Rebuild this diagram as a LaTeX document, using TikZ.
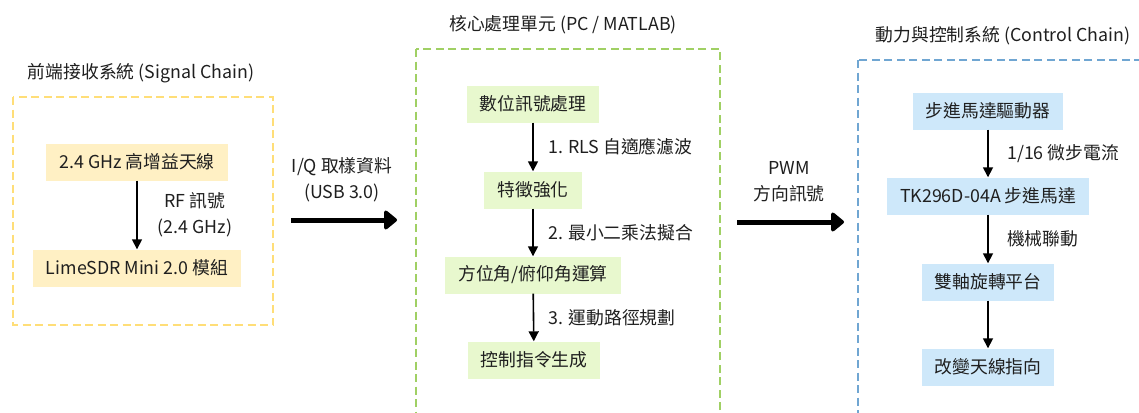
\documentclass[tikz,border=0pt]{standalone}
\usepackage{fontspec}
\setmainfont{Noto Sans CJK TC}
\usetikzlibrary{arrows.meta}
\definecolor{ybord}{RGB}{255,222,120}
\definecolor{yfill}{RGB}{255,240,196}
\definecolor{gbord}{RGB}{160,208,100}
\definecolor{gfill}{RGB}{232,248,206}
\definecolor{bbord}{RGB}{112,166,210}
\definecolor{bfill}{RGB}{206,232,250}
\tikzset{
  txt/.style={font=\fontsize{17.8}{26}\selectfont, text=black!88},
  box/.style={txt, inner xsep=13pt, inner ysep=0pt, minimum height=37pt},
  ybox/.style={box, fill=yfill},
  gbox/.style={box, fill=gfill},
  bbox/.style={box, fill=bfill},
  group/.style={line width=2pt, dash pattern=on 8pt off 4.5pt},
  arr/.style={line width=1.6pt, -{Triangle[length=10pt,width=10pt]}},
  bigarr/.style={line width=5pt, -{Triangle[length=14pt,width=22pt,round]}},
  elabel/.style={txt, anchor=west, align=left},
}
\begin{document}
\begin{tikzpicture}[x=1pt,y=-1pt]
\clip (0,0) rectangle (1139,412);
\fill[white] (0,0) rectangle (1139,412);

% group frames
\draw[group, ybord] (13,97) rectangle (273,325);
\draw[group, gbord] (416,49) rectangle (720,440);
\draw[group, bbord] (858,60) rectangle (1170,440);

% titles
\node[txt] (t1) at (141,73) {前端接收系統 (Signal Chain)};
\node[txt] (t2) at (563,25) {核心處理單元 (PC / MATLAB)};
\node[txt] (t3) at (1003,36) {動力與控制系統 (Control Chain)};

% left cluster
\node[ybox] (ant) at (137,162) {2.4 GHz 高增益天線};
\node[ybox] (sdr) at (137,268) {LimeSDR Mini 2.0 模組};
\draw[arr] (ant) -- (sdr) node[midway, txt, align=center, xshift=58pt] (l1) {RF 訊號\\(2.4 GHz)};

% middle cluster
\node[gbox] (dsp) at (533,104) {數位訊號處理};
\node[gbox] (feat) at (533,190) {特徵強化};
\node[gbox] (ang) at (533,275) {方位角/俯仰角運算};
\node[gbox] (cmd) at (534,360) {控制指令生成};
\draw[arr] (dsp) -- (feat) node[midway, elabel, xshift=11pt] (l2) {1. RLS 自適應濾波};
\draw[arr] (feat) -- (ang) node[midway, elabel, xshift=11pt] (l3) {2. 最小二乘法擬合};
\draw[arr] (ang) -- (cmd) node[midway, elabel, xshift=11pt] (l4) {3. 運動路徑規劃};

% right cluster
\node[bbox] (drv) at (988,111) {步進馬達驅動器};
\node[bbox] (mot) at (988,196) {TK296D-04A 步進馬達};
\node[bbox] (plat) at (988,282) {雙軸旋轉平台};
\node[bbox] (point) at (988,367) {改變天線指向};
\draw[arr] (drv) -- (mot) node[midway, elabel, xshift=15pt] (l5) {1/16 微步電流};
\draw[arr] (mot) -- (plat) node[midway, elabel, xshift=15pt] (l6) {機械聯動};
\draw[arr] (plat) -- (point);

% big arrows between groups
\coordinate (a1s) at (291,220);
\coordinate (a1e) at (397,220);
\draw[bigarr] (a1s) -- (a1e);
\node[txt, align=center] (la1) at (342,180) {I/Q 取樣資料\\(USB 3.0)};

\coordinate (a2s) at (737,222);
\coordinate (a2e) at (844,222);
\draw[bigarr] (a2s) -- (a2e);
\node[txt, align=center] (la2) at (789,182) {PWM\\方向訊號};
\end{tikzpicture}
\end{document}
